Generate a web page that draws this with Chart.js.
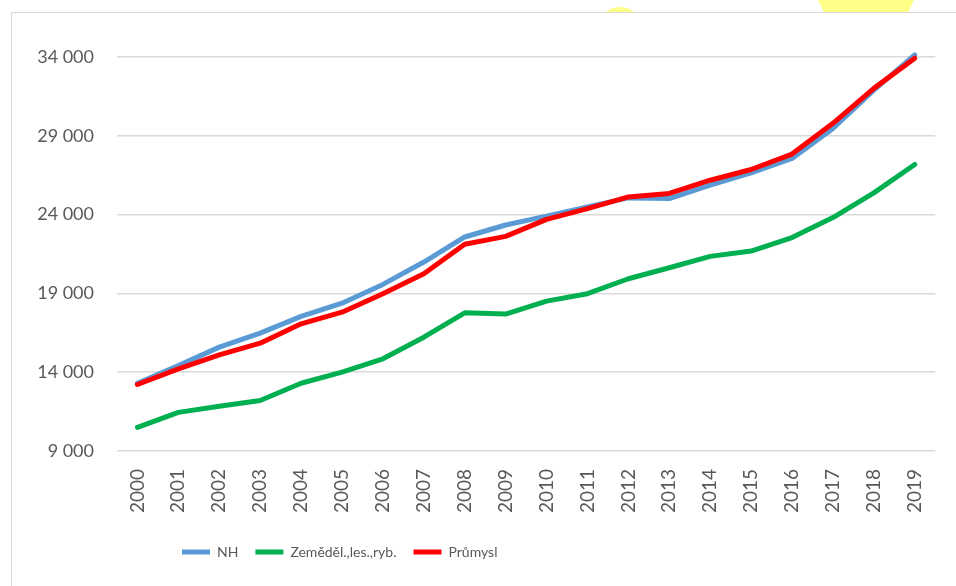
<!DOCTYPE html>
<html>
<head>
<meta charset="utf-8">
<script src="https://cdn.jsdelivr.net/npm/chart.js@4"></script>
<style>
  html, body { margin: 0; padding: 0; background: #fff; }
  #wrap { position: relative; width: 956px; height: 586px; overflow: hidden; }
  .blob { position: absolute; background: #ffff88; }
  #circle { left: 597px; top: 7px; width: 46px; height: 46px; border-radius: 50%; }
  #hexa { left: 818px; top: -30px; width: 96px; height: 50px;
          clip-path: polygon(25% 0, 75% 0, 100% 60%, 90% 100%, 10% 100%, 0 60%); }
  #frame { position: absolute; left: 11px; top: 12px; width: 960px; height: 600px;
           background: #fff; border: 1.5px solid #d9d9d9; box-sizing: border-box; }
  #chart { position: absolute; left: 0; top: 0; }
</style>
</head>
<body>
<div id="wrap">
  <div class="blob" id="circle"></div>
  <div class="blob" id="hexa"></div>
  <div id="frame"></div>
  <canvas id="chart" width="956" height="586"></canvas>
</div>
<script>
const years = ["2000", "2001", "2002", "2003", "2004", "2005", "2006", "2007", "2008", "2009",
               "2010", "2011", "2012", "2013", "2014", "2015", "2016", "2017", "2018", "2019"];
const nh = [13300, 14420, 15590, 16480, 17540, 18380, 19570, 20990, 22580, 23340,
            23900, 24490, 25060, 25020, 25870, 26650, 27560, 29470, 31900, 34130];
const zemedel = [10500, 11450, 11840, 12200, 13300, 14000, 14850, 16220, 17770, 17690,
                 18510, 18980, 19930, 20630, 21350, 21690, 22540, 23810, 25380, 27180];
const prumysl = [13220, 14210, 15100, 15840, 17070, 17810, 18980, 20250, 22120, 22620,
                 23700, 24380, 25120, 25340, 26180, 26860, 27840, 29790, 32010, 33920];
const seriesNames = ["NH", "Zeměděl.,les.,ryb.", "Průmysl"];

const fmt = (v) => String(v).replace(/\B(?=(\d{3})+(?!\d))/g, " ");

const lineSet = (label, data, color, order) => ({
  label: label,
  data: data,
  borderColor: color,
  backgroundColor: color,
  borderWidth: 5,
  borderCapStyle: "round",
  borderJoinStyle: "round",
  pointRadius: 0,
  tension: 0,
  clip: 10,
  order: order
});

// move the legend to where the original had it
const legendShift = {
  id: "legendShift",
  afterLayout(chart) {
    const lg = chart.legend;
    const w = lg.right - lg.left;
    lg.left = 165;
    lg.right = lg.left + w;
  }
};

const ctx = document.getElementById("chart");
new Chart(ctx, {
  type: "line",
  data: {
    labels: years,
    datasets: [
      lineSet(seriesNames[0], nh, "#5b9bd5", 2),
      lineSet(seriesNames[1], zemedel, "#00b050", 1),
      lineSet(seriesNames[2], prumysl, "#ff0000", 0)
    ]
  },
  options: {
    responsive: false,
    animation: false,
    layout: { padding: { left: 0, right: 18, top: 57, bottom: 17 } },
    plugins: {
      tooltip: { enabled: false },
      legend: {
        position: "bottom",
        align: "start",
        labels: {
          usePointStyle: true,
          pointStyle: "line",
          pointStyleWidth: 28,
          padding: 17,
          color: "#595959",
          font: { family: "Lato", size: 14 },
          sort: (a, b) => a.datasetIndex - b.datasetIndex
        }
      }
    },
    scales: {
      x: {
        offset: true,
        grid: { display: false, drawTicks: false },
        border: { display: false },
        ticks: {
          minRotation: 90,
          maxRotation: 90,
          padding: 18,
          color: "#595959",
          font: { family: "Lato", size: 19 }
        },
        afterFit: (s) => { s.height = 77; }
      },
      y: {
        min: 9000,
        max: 34000,
        grid: { color: "#d9d9d9", lineWidth: 1.5, drawTicks: false },
        border: { display: false },
        ticks: {
          stepSize: 5000,
          padding: 23,
          color: "#595959",
          font: { family: "Lato", size: 18 },
          callback: (v) => fmt(v)
        },
        afterFit: (s) => { s.width = 117; }
      }
    }
  },
  plugins: [legendShift]
});
</script>
</body>
</html>
